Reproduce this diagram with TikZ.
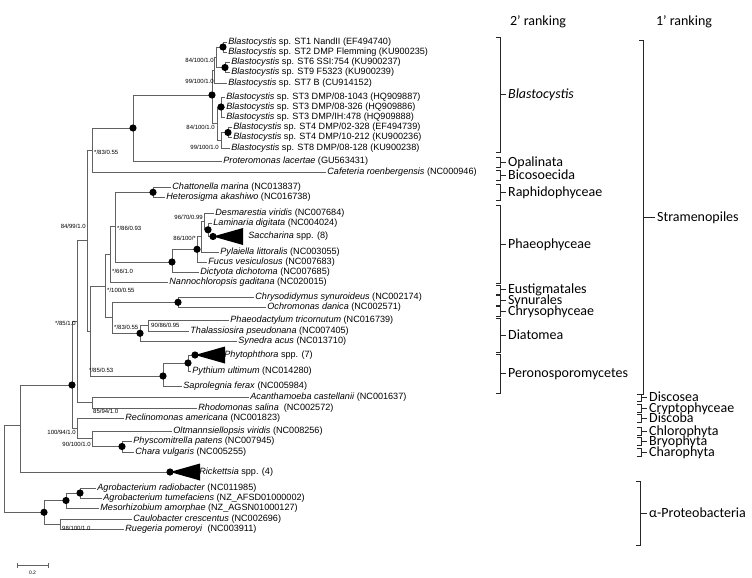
\documentclass[tikz,border=0pt]{standalone}
\usepackage{fontspec}
\setmainfont{Liberation Sans}
\newfontfamily\rankfont{Carlito}
% bracket of a ranking column: name, x, top, bottom, tick, label
\newcommand{\rankbrace}[6]{%
  \draw[bk] (#2-4,#3) -- (#2,#3) -- (#2,#4) -- (#2-4,#4);
  \draw[bk] (#2,{(#3+#4)/2}) -- ++(#5,0) node[rk] (#1) {#6};
}
\begin{document}
\begin{tikzpicture}[x=1pt,y=-1pt,
  br/.style={draw=black!62,line width=0.65pt},
  bk/.style={draw=black!85,line width=0.7pt},
  tx/.style={anchor=west,inner sep=1.2pt,font=\fontsize{9.1}{9}\selectfont},
  bs/.style={inner sep=0pt,font=\fontsize{6}{6}\selectfont},
  rk/.style={anchor=west,inner sep=0.3pt,xshift=1.5pt,text height=8.5pt,text depth=0.5pt,
    font=\rankfont\fontsize{14}{14}\selectfont}]
\useasboundingbox (0,0) rectangle (752,578);

% column headers
\node[rk] (h2) at (508,22) {2’ ranking};
\node[rk] (h1) at (654,22) {1’ ranking};

% internal nodes
\coordinate (b12) at (223,47);      \coordinate (b69) at (225,67.5);
\coordinate (b1) at (216,57.3);     \coordinate (b2) at (214,70);
\coordinate (bst3) at (221,107);    \coordinate (bst4) at (228,132.5);
\coordinate (b4) at (221,140);      \coordinate (b3) at (217,123.5);
\coordinate (bR) at (212,95);       \coordinate (bp) at (133,128);
\coordinate (opbi) at (92,150.5);
\coordinate (raph) at (153,192.3);  \coordinate (lamsac) at (208,229.8);
\coordinate (des) at (204,221.4);   \coordinate (pyl) at (201,236.7);
\coordinate (ph1) at (197,249.3);   \coordinate (phroot) at (172,262);
\coordinate (rp) at (115,226.5);    \coordinate (eu) at (110,254.3);
\coordinate (chry) at (178,302.3);  \coordinate (pt) at (148,325.5);
\coordinate (diat) at (140,333.3);  \coordinate (cd) at (112,317.8);
\coordinate (ochro2) at (105,286);  \coordinate (phpy) at (188,363);
\coordinate (per) at (163,376);     \coordinate (core) at (90,331);
\coordinate (strame) at (87,240.4); \coordinate (acan) at (92,402.5);
\coordinate (X) at (77,321.4);      \coordinate (pc) at (122,446.5);
\coordinate (oltm) at (92,438.8);   \coordinate (plants) at (77,428.4);
\coordinate (big) at (72,385);      \coordinate (n1) at (20.7,425);
\coordinate (agro) at (80,493);     \coordinate (agro3) at (66,500.5);
\coordinate (cr) at (60,524);       \coordinate (alpha) at (44,512.3);
\coordinate (root) at (4,468);
% collapsed clades (apex of the triangle)
\coordinate (sac) at (213,236.5);
\coordinate (phyto) at (195,355);
\coordinate (rick) at (170,472);

% leaves
\node[tx] (st1) at (227,42) {\textit{Blastocystis} sp. ST1 NandII (EF494740)};
\node[tx] (st2) at (227,52) {\textit{Blastocystis} sp. ST2 DMP Flemming (KU900235)};
\node[tx] (st6) at (230,62.5) {\textit{Blastocystis} sp. ST6 SSI:754 (KU900237)};
\node[tx] (st9) at (230,72.5) {\textit{Blastocystis} sp. ST9 F5323 (KU900239)};
\node[tx] (st7) at (227,83) {\textit{Blastocystis} sp. ST7 B (CU914152)};
\node[tx] (st3a) at (225,97) {\textit{Blastocystis} sp. ST3 DMP/08-1043 (HQ909887)};
\node[tx] (st3b) at (225,107) {\textit{Blastocystis} sp. ST3 DMP/08-326 (HQ909886)};
\node[tx] (st3c) at (225,117.5) {\textit{Blastocystis} sp. ST3 DMP/IH:478 (HQ909888)};
\node[tx] (st4a) at (232,127.5) {\textit{Blastocystis} sp. ST4 DMP/02-328 (EF494739)};
\node[tx] (st4b) at (232,137.5) {\textit{Blastocystis} sp. ST4 DMP/10-212 (KU900236)};
\node[tx] (st8) at (230,148) {\textit{Blastocystis} sp. ST8 DMP/08-128 (KU900238)};
\node[tx] (prot) at (222,161.5) {\textit{Proteromonas lacertae} (GU563431)};
\node[tx] (caf) at (326,172) {\textit{Cafeteria roenbergensis} (NC000946)};
\node[tx] (chat) at (171,187) {\textit{Chattonella marina} (NC013837)};
\node[tx] (het) at (165,197.5) {\textit{Heterosigma akashiwo} (NC016738)};
\node[tx] (desm) at (214,213) {\textit{Desmarestia viridis} (NC007684)};
\node[tx] (lam) at (212,223) {\textit{Laminaria digitata} (NC004024)};
\node[tx] (sacl) at (247,236.5) {\textit{Saccharina} spp. (8)};
\node[tx] (pyla) at (219,252) {\textit{Pylaiella littoralis} (NC003055)};
\node[tx] (fuc) at (207,262) {\textit{Fucus vesiculosus} (NC007683)};
\node[tx] (dict) at (199,272) {\textit{Dictyota dichotoma} (NC007685)};
\node[tx] (nanno) at (168,282) {\textit{Nannochloropsis gaditana} (NC020015)};
\node[tx] (chryso) at (254,297) {\textit{Chrysodidymus synuroideus} (NC002174)};
\node[tx] (ochro) at (266,307.5) {\textit{Ochromonas danica} (NC002571)};
\node[tx] (phaeo) at (229,320) {\textit{Phaeodactylum tricornutum} (NC016739)};
\node[tx] (thal) at (189,331) {\textit{Thalassiosira pseudonana} (NC007405)};
\node[tx] (syn) at (237,341) {\textit{Synedra acus} (NC013710)};
\node[tx] (phytl) at (223,355) {\textit{Phytophthora} spp. (7)};
\node[tx] (pyth) at (191,371) {\textit{Pythium ultimum} (NC014280)};
\node[tx] (sapro) at (182,386) {\textit{Saprolegnia ferax} (NC005984)};
\node[tx] (acanth) at (249,397) {\textit{Acanthamoeba castellanii} (NC001637)};
\node[tx] (rhodo) at (197,408) {\textit{Rhodomonas salina}\ \ (NC002572)};
\node[tx] (reclin) at (124,418) {\textit{Reclinomonas americana} (NC001823)};
\node[tx] (olt) at (172,431) {\textit{Oltmannsiellopsis viridis} (NC008256)};
\node[tx] (physco) at (132,441) {\textit{Physcomitrella patens} (NC007945)};
\node[tx] (chara) at (134,452) {\textit{Chara vulgaris} (NC005255)};
\node[tx] (rickl) at (198,472) {\textit{Rickettsia} spp. (4)};
\node[tx] (agror) at (96,488) {\textit{Agrobacterium radiobacter} (NC011985)};
\node[tx] (agrot) at (102,498) {\textit{Agrobacterium tumefaciens} (NZ\_AFSD01000002)};
\node[tx] (meso) at (99,508) {\textit{Mesorhizobium amorphae} (NZ\_AGSN01000127)};
\node[tx] (caulo) at (132,519) {\textit{Caulobacter crescentus} (NC002696)};
\node[tx] (rueg) at (124,529) {\textit{Ruegeria pomeroyi}\ \ (NC003911)};

% branches, parent to child
\foreach \p/\c in {b12/st1,b12/st2,b69/st6,b69/st9,b1/b12,b1/b69,b2/b1,b2/st7,
  bst3/st3a,bst3/st3b,bst3/st3c,bst4/st4a,bst4/st4b,b4/bst4,b4/st8,b3/bst3,b3/b4,
  bR/b2,bR/b3,bp/bR,bp/prot,opbi/bp,opbi/caf,raph/chat,raph/het,
  lamsac/lam,lamsac/sac,des/desm,des/lamsac,pyl/des,pyl/pyla,ph1/pyl,ph1/fuc,
  phroot/ph1,phroot/dict,rp/raph,rp/phroot,eu/rp,eu/nanno,
  chry/chryso,chry/ochro,pt/phaeo,pt/thal,diat/pt,diat/syn,cd/chry,cd/diat,
  ochro2/eu,ochro2/cd,phpy/phyto,phpy/pyth,per/phpy,per/sapro,core/ochro2,core/per,
  strame/opbi,strame/core,acan/acanth,acan/rhodo,X/strame,X/acan,
  pc/physco,pc/chara,oltm/olt,oltm/pc,plants/reclin,plants/oltm,big/X,big/plants,
  n1/big,n1/rick,agro/agror,agro/agrot,agro3/agro,agro3/meso,cr/caulo,cr/rueg,
  alpha/agro3,alpha/cr,root/n1,root/alpha}
  \draw[br] (\p) |- (\c);

% collapsed clades
\foreach \a in {sac,phyto,rick}
  \fill (\a) -- ++(30,-8.5) -- ++(0,17) -- cycle;

% strongly supported nodes
\foreach \n in {b12,b69,bst3,bst4,bR,bp,raph,lamsac,sac,ph1,phroot,chry,diat,
  phpy,phyto,per,pc,big,rick,agro,agro3,alpha}
  \fill (\n) circle (3.6);

% support values
\node[bs,anchor=east] (s1) at (214,60) {84/100/1.0};
\node[bs,anchor=east] (s2) at (214,81) {99/100/1.0};
\node[bs,anchor=east] (s3) at (215,127) {84/100/1.0};
\node[bs,anchor=east] (s4) at (219,147.5) {99/100/1.0};
\node[bs,anchor=west] (s5) at (94,152) {*/83/0.55};
\node[bs,anchor=east] (s6) at (86,226) {84/99/1.0};
\node[bs,anchor=west] (s7) at (117,228) {*/86/0.93};
\node[bs,anchor=east] (s8) at (203,217) {96/70/0.99};
\node[bs,anchor=east] (s9) at (196,238) {86/100/*};
\node[bs,anchor=west] (s10) at (112,271) {*/66/1.0};
\node[bs,anchor=west] (s11) at (107,290) {*/100/0.55};
\node[bs,anchor=west] (s12) at (114,327) {*/83/0.55};
\node[bs,anchor=west] (s13) at (151,325.5) {90/86/0.95};
\node[bs,anchor=east] (s14) at (76,323) {*/85/1.0};
\node[bs,anchor=west] (s15) at (89,370) {*/85/0.53};
\node[bs,anchor=west] (s16) at (93,411) {85/94/1.0};
\node[bs,anchor=east] (s17) at (76,432) {100/94/1.0};
\node[bs,anchor=east] (s18) at (91,444) {90/100/1.0};
\node[bs,anchor=west] (s19) at (62,528) {98/100/1.0};

% scale bar
\coordinate (sb1) at (17,565);
\coordinate (sb2) at (48,565);
\draw[br] (sb1) -- (sb2) (sb1) ++(0,-2.5) -- ++(0,5) (sb2) ++(0,-2.5) -- ++(0,5);
\node[bs,font=\fontsize{5}{5}\selectfont] (sbl) at (32.5,573) {0.2};

% 2' ranking
\rankbrace{blast}{500}{37}{152}{6}{\textit{Blastocystis}}
\rankbrace{opal}{500}{157}{167}{6}{Opalinata}
\rankbrace{bico}{500}{170}{180}{6}{Bicosoecida}
\rankbrace{raphi}{500}{184}{200}{6}{Raphidophyceae}
\rankbrace{phaeoph}{500}{205}{283}{6}{Phaeophyceae}
\rankbrace{eust}{500}{285}{294}{6}{Eustigmatales}
\rankbrace{synu}{500}{295}{305}{6}{Synurales}
\rankbrace{chrys}{500}{306}{316}{6}{Chrysophyceae}
\rankbrace{diato}{500}{318}{352}{6}{Diatomea}
\rankbrace{peron}{500}{354}{393}{6}{Peronosporomycetes}

% 1' ranking
\rankbrace{stram}{643}{40}{394}{12}{Stramenopiles}
\rankbrace{disc}{641}{394}{401}{6}{Discosea}
\rankbrace{crypt}{641}{404}{412}{6}{Cryptophyceae}
\rankbrace{discb}{641}{414}{422}{6}{Discoba}
\rankbrace{chlor}{641}{427}{435}{6}{Chlorophyta}
\rankbrace{bryo}{641}{437}{445}{6}{Bryophyta}
\rankbrace{charo}{641}{448}{456}{6}{Charophyta}
\rankbrace{alphap}{640}{481}{545}{7}{α-Proteobacteria}
\end{tikzpicture}
\end{document}
